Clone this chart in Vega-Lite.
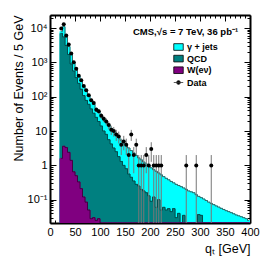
{
  "$schema": "https://vega.github.io/schema/vega-lite/v6.json",
  "width": 200,
  "height": 208,
  "autosize": {"type": "none"},
  "padding": {"left": 50, "top": 15, "right": 26, "bottom": 42},
  "background": "white",
  "config": {
    "view": {"stroke": null},
    "font": "Liberation Sans",
    "axis": {
      "domainColor": "black",
      "domainWidth": 2,
      "tickColor": "black",
      "tickWidth": 1,
      "grid": false,
      "zindex": 1,
      "labelFont": "Liberation Sans",
      "labelFontSize": 11,
      "labelColor": "black",
      "labelOverlap": false,
      "labelFlush": false,
      "labelBound": false,
      "titleFont": "Liberation Sans",
      "titleFontSize": 12.5,
      "titleFontWeight": "normal",
      "titleColor": "black"
    },
    "legend": {
      "labelFont": "Liberation Sans", "labelFontSize": 9, "labelFontWeight": "bold", "labelColor": "black",
      "titleFont": "Liberation Sans", "titleFontSize": 9.5, "titleFontWeight": "bold", "titleColor": "black",
      "symbolOffset": 40, "symbolSize": 90, "rowPadding": 0.6, "labelOffset": 3,
      "symbolStrokeColor": "black", "symbolStrokeWidth": 0.8
    }
  },
  "datasets": {
    "hist": [
      {"lo": 20, "hi": 25, "c": 22.5, "total": 8000, "qcd_w": 7000, "w": 1.6},
      {"lo": 25, "hi": 30, "c": 27.5, "total": 11000, "qcd_w": 5500, "w": 3.6},
      {"lo": 30, "hi": 35, "c": 32.5, "total": 5500, "qcd_w": 3100, "w": 3.3},
      {"lo": 35, "hi": 40, "c": 37.5, "total": 2900, "qcd_w": 1700, "w": 2.4},
      {"lo": 40, "hi": 45, "c": 42.5, "total": 1700, "qcd_w": 900, "w": 1.4},
      {"lo": 45, "hi": 50, "c": 47.5, "total": 1000, "qcd_w": 560, "w": 0.65},
      {"lo": 50, "hi": 55, "c": 52.5, "total": 600, "qcd_w": 360, "w": 0.5},
      {"lo": 55, "hi": 60, "c": 57.5, "total": 400, "qcd_w": 245, "w": 0.33},
      {"lo": 60, "hi": 65, "c": 62.5, "total": 280, "qcd_w": 165, "w": 0.21},
      {"lo": 65, "hi": 70, "c": 67.5, "total": 200, "qcd_w": 108, "w": 0.12},
      {"lo": 70, "hi": 75, "c": 72.5, "total": 145, "qcd_w": 78, "w": 0.085},
      {"lo": 75, "hi": 80, "c": 77.5, "total": 105, "qcd_w": 60, "w": 0.05},
      {"lo": 80, "hi": 85, "c": 82.5, "total": 78, "qcd_w": 44, "w": 0.028},
      {"lo": 85, "hi": 90, "c": 87.5, "total": 60, "qcd_w": 33, "w": 0.03},
      {"lo": 90, "hi": 95, "c": 92.5, "total": 46, "qcd_w": 25, "w": 0.025},
      {"lo": 95, "hi": 100, "c": 97.5, "total": 37, "qcd_w": 19, "w": 0.028},
      {"lo": 100, "hi": 105, "c": 102.5, "total": 29, "qcd_w": 14, "w": 0},
      {"lo": 105, "hi": 110, "c": 107.5, "total": 23, "qcd_w": 10, "w": 0},
      {"lo": 110, "hi": 115, "c": 112.5, "total": 18.5, "qcd_w": 8, "w": 0},
      {"lo": 115, "hi": 120, "c": 117.5, "total": 15, "qcd_w": 5.6, "w": 0},
      {"lo": 120, "hi": 125, "c": 122.5, "total": 12, "qcd_w": 4.2, "w": 0},
      {"lo": 125, "hi": 130, "c": 127.5, "total": 9.8, "qcd_w": 3.2, "w": 0},
      {"lo": 130, "hi": 135, "c": 132.5, "total": 8, "qcd_w": 2.5, "w": 0},
      {"lo": 135, "hi": 140, "c": 137.5, "total": 6.5, "qcd_w": 1.8, "w": 0},
      {"lo": 140, "hi": 145, "c": 142.5, "total": 5.4, "qcd_w": 1.3, "w": 0},
      {"lo": 145, "hi": 150, "c": 147.5, "total": 4.5, "qcd_w": 1.0, "w": 0},
      {"lo": 150, "hi": 155, "c": 152.5, "total": 3.8, "qcd_w": 0.8, "w": 0},
      {"lo": 155, "hi": 160, "c": 157.5, "total": 3.2, "qcd_w": 0.56, "w": 0},
      {"lo": 160, "hi": 165, "c": 162.5, "total": 2.7, "qcd_w": 0.45, "w": 0},
      {"lo": 165, "hi": 170, "c": 167.5, "total": 2.3, "qcd_w": 0.35, "w": 0},
      {"lo": 170, "hi": 175, "c": 172.5, "total": 1.95, "qcd_w": 0.28, "w": 0},
      {"lo": 175, "hi": 180, "c": 177.5, "total": 1.65, "qcd_w": 0.25, "w": 0},
      {"lo": 180, "hi": 185, "c": 182.5, "total": 1.45, "qcd_w": 0.2, "w": 0},
      {"lo": 185, "hi": 190, "c": 187.5, "total": 1.25, "qcd_w": 0.18, "w": 0},
      {"lo": 190, "hi": 195, "c": 192.5, "total": 1.1, "qcd_w": 0.16, "w": 0},
      {"lo": 195, "hi": 200, "c": 197.5, "total": 0.97, "qcd_w": 0.13, "w": 0},
      {"lo": 200, "hi": 205, "c": 202.5, "total": 0.85, "qcd_w": 0.09, "w": 0},
      {"lo": 205, "hi": 210, "c": 207.5, "total": 0.75, "qcd_w": 0.12, "w": 0},
      {"lo": 210, "hi": 215, "c": 212.5, "total": 0.67, "qcd_w": 0.06, "w": 0},
      {"lo": 215, "hi": 220, "c": 217.5, "total": 0.6, "qcd_w": 0.1, "w": 0},
      {"lo": 220, "hi": 225, "c": 222.5, "total": 0.53, "qcd_w": 0.05, "w": 0},
      {"lo": 225, "hi": 230, "c": 227.5, "total": 0.47, "qcd_w": 0.06, "w": 0},
      {"lo": 230, "hi": 235, "c": 232.5, "total": 0.42, "qcd_w": 0.05, "w": 0},
      {"lo": 235, "hi": 240, "c": 237.5, "total": 0.38, "qcd_w": 0.055, "w": 0},
      {"lo": 240, "hi": 245, "c": 242.5, "total": 0.34, "qcd_w": 0.045, "w": 0},
      {"lo": 245, "hi": 250, "c": 247.5, "total": 0.31, "qcd_w": 0.055, "w": 0},
      {"lo": 250, "hi": 255, "c": 252.5, "total": 0.28, "qcd_w": 0.03, "w": 0},
      {"lo": 255, "hi": 260, "c": 257.5, "total": 0.26, "qcd_w": 0.04, "w": 0},
      {"lo": 260, "hi": 265, "c": 262.5, "total": 0.24, "qcd_w": 0, "w": 0},
      {"lo": 265, "hi": 270, "c": 267.5, "total": 0.22, "qcd_w": 0.035, "w": 0},
      {"lo": 270, "hi": 275, "c": 272.5, "total": 0.2, "qcd_w": 0, "w": 0},
      {"lo": 275, "hi": 280, "c": 277.5, "total": 0.18, "qcd_w": 0, "w": 0},
      {"lo": 280, "hi": 285, "c": 282.5, "total": 0.17, "qcd_w": 0, "w": 0},
      {"lo": 285, "hi": 290, "c": 287.5, "total": 0.16, "qcd_w": 0, "w": 0},
      {"lo": 290, "hi": 295, "c": 292.5, "total": 0.14, "qcd_w": 0, "w": 0},
      {"lo": 295, "hi": 300, "c": 297.5, "total": 0.125, "qcd_w": 0.037, "w": 0},
      {"lo": 300, "hi": 305, "c": 302.5, "total": 0.115, "qcd_w": 0.035, "w": 0},
      {"lo": 305, "hi": 310, "c": 307.5, "total": 0.105, "qcd_w": 0, "w": 0},
      {"lo": 310, "hi": 315, "c": 312.5, "total": 0.095, "qcd_w": 0, "w": 0},
      {"lo": 315, "hi": 320, "c": 317.5, "total": 0.085, "qcd_w": 0, "w": 0},
      {"lo": 320, "hi": 325, "c": 322.5, "total": 0.078, "qcd_w": 0, "w": 0},
      {"lo": 325, "hi": 330, "c": 327.5, "total": 0.072, "qcd_w": 0, "w": 0},
      {"lo": 330, "hi": 335, "c": 332.5, "total": 0.066, "qcd_w": 0, "w": 0},
      {"lo": 335, "hi": 340, "c": 337.5, "total": 0.061, "qcd_w": 0, "w": 0},
      {"lo": 340, "hi": 345, "c": 342.5, "total": 0.056, "qcd_w": 0, "w": 0},
      {"lo": 345, "hi": 350, "c": 347.5, "total": 0.052, "qcd_w": 0, "w": 0},
      {"lo": 350, "hi": 355, "c": 352.5, "total": 0.048, "qcd_w": 0, "w": 0},
      {"lo": 355, "hi": 360, "c": 357.5, "total": 0.045, "qcd_w": 0, "w": 0},
      {"lo": 360, "hi": 365, "c": 362.5, "total": 0.042, "qcd_w": 0, "w": 0},
      {"lo": 365, "hi": 370, "c": 367.5, "total": 0.039, "qcd_w": 0, "w": 0},
      {"lo": 370, "hi": 375, "c": 372.5, "total": 0.036, "qcd_w": 0, "w": 0},
      {"lo": 375, "hi": 380, "c": 377.5, "total": 0.034, "qcd_w": 0, "w": 0},
      {"lo": 380, "hi": 385, "c": 382.5, "total": 0.032, "qcd_w": 0, "w": 0},
      {"lo": 385, "hi": 390, "c": 387.5, "total": 0.03, "qcd_w": 0, "w": 0},
      {"lo": 390, "hi": 395, "c": 392.5, "total": 0.028, "qcd_w": 0, "w": 0},
      {"lo": 395, "hi": 400, "c": 397.5, "total": 0.025, "qcd_w": 0, "w": 0}
    ],
    "obs": [
      {"c": 22.5, "n": 9700, "lo": 9602, "hi": 9798},
      {"c": 27.5, "n": 13000, "lo": 12886, "hi": 13114},
      {"c": 32.5, "n": 6100, "lo": 6022, "hi": 6178},
      {"c": 37.5, "n": 3300, "lo": 3243, "hi": 3357},
      {"c": 42.5, "n": 1820, "lo": 1777, "hi": 1863},
      {"c": 47.5, "n": 1010, "lo": 978, "hi": 1042},
      {"c": 52.5, "n": 650, "lo": 624.5, "hi": 675.5},
      {"c": 57.5, "n": 410, "lo": 389.8, "hi": 430.2},
      {"c": 62.5, "n": 300, "lo": 282.7, "hi": 317.3},
      {"c": 67.5, "n": 205, "lo": 190.7, "hi": 219.3},
      {"c": 72.5, "n": 155, "lo": 142.6, "hi": 167.4},
      {"c": 77.5, "n": 110, "lo": 99.5, "hi": 120.5},
      {"c": 82.5, "n": 79, "lo": 70.1, "hi": 87.9},
      {"c": 87.5, "n": 66, "lo": 57.9, "hi": 74.1},
      {"c": 92.5, "n": 42, "lo": 35.5, "hi": 48.5},
      {"c": 97.5, "n": 38, "lo": 31.8, "hi": 44.2},
      {"c": 102.5, "n": 28, "lo": 22.7, "hi": 33.3},
      {"c": 107.5, "n": 23, "lo": 18.2, "hi": 27.8},
      {"c": 112.5, "n": 19, "lo": 14.64, "hi": 23.36},
      {"c": 117.5, "n": 15, "lo": 11.13, "hi": 18.87},
      {"c": 122.5, "n": 11, "lo": 7.68, "hi": 14.32},
      {"c": 127.5, "n": 10, "lo": 6.84, "hi": 13.16},
      {"c": 132.5, "n": 8, "lo": 5.17, "hi": 10.83},
      {"c": 137.5, "n": 7, "lo": 4.35, "hi": 9.65},
      {"c": 142.5, "n": 4, "lo": 2, "hi": 6},
      {"c": 147.5, "n": 5, "lo": 2.76, "hi": 7.24},
      {"c": 152.5, "n": 4, "lo": 2, "hi": 6},
      {"c": 157.5, "n": 2, "lo": 0.59, "hi": 3.41},
      {"c": 162.5, "n": 8, "lo": 5.17, "hi": 10.83},
      {"c": 167.5, "n": 2, "lo": 0.59, "hi": 3.41},
      {"c": 172.5, "n": 4, "lo": 2, "hi": 6},
      {"c": 177.5, "n": 1, "lo": 0, "hi": 2},
      {"c": 182.5, "n": 1, "lo": 0, "hi": 2},
      {"c": 187.5, "n": 1, "lo": 0, "hi": 2},
      {"c": 192.5, "n": 2, "lo": 0.59, "hi": 3.41},
      {"c": 197.5, "n": 1, "lo": 0, "hi": 2},
      {"c": 202.5, "n": 3, "lo": 1.27, "hi": 4.73},
      {"c": 207.5, "n": 1, "lo": 0, "hi": 2},
      {"c": 212.5, "n": 1, "lo": 0, "hi": 2},
      {"c": 217.5, "n": 1, "lo": 0, "hi": 2},
      {"c": 222.5, "n": 1, "lo": 0, "hi": 2},
      {"c": 272.5, "n": 1, "lo": 0, "hi": 2},
      {"c": 292.5, "n": 1, "lo": 0, "hi": 2},
      {"c": 322.5, "n": 1, "lo": 0, "hi": 2}
    ]
  },
  "resolve": {"scale": {"color": "independent"}, "legend": {"color": "independent"}, "axis": {"x": "independent", "y": "independent"}},
  "layer": [
    {
      "resolve": {"axis": {"x": "independent", "y": "independent"}},
      "layer": [
        {
          "data": {"name": "hist"},
          "mark": {"type": "bar", "clip": true, "stroke": "#00ffff", "strokeWidth": 1},
          "encoding": {
            "x": {"field": "lo", "type": "quantitative",
              "scale": {"domain": [0, 400], "nice": false, "zero": false},
              "axis": {"orient": "bottom", "values": [0,10,20,30,40,50,60,70,80,90,100,110,120,130,140,150,160,170,180,190,200,210,220,230,240,250,260,270,280,290,300,310,320,330,340,350,360,370,380,390,400],
                "labelExpr": "datum.value % 50 === 0 ? datum.label : ''",
                "tickSize": {"condition": {"test": "datum.value % 50 === 0", "value": -6}, "value": -3},
                "labelPadding": 9,
                "title": "qₜ [GeV]", "titleAnchor": "end", "titlePadding": 2}},
            "x2": {"field": "hi"},
            "y": {"field": "total", "type": "quantitative",
              "scale": {"type": "log", "domain": [0.021, 24000], "nice": false, "clamp": true},
              "axis": {"orient": "left",
                "values": [0.03,0.04,0.05,0.06,0.07,0.08,0.09,0.1,0.2,0.3,0.4,0.5,0.6,0.7,0.8,0.9,1,2,3,4,5,6,7,8,9,10,20,30,40,50,60,70,80,90,100,200,300,400,500,600,700,800,900,1000,2000,3000,4000,5000,6000,7000,8000,9000,10000,20000],
                "labelExpr": "datum.value === 10000 ? '10⁴' : datum.value === 1000 ? '10³' : datum.value === 100 ? '10²' : datum.value === 10 ? '10' : datum.value === 1 ? '1' : datum.value === 0.1 ? '10⁻¹' : ''",
                "tickSize": {"condition": {"test": "indexof([0.1,1,10,100,1000,10000], datum.value) >= 0", "value": -6}, "value": -3},
                "labelPadding": 9,
                "title": "Number of Events / 5 GeV", "titleAnchor": "end", "titleX": -25}},
            "y2": {"value": "height"},
            "color": {"datum": "γ + jets", "type": "nominal",
              "scale": {"domain": ["γ + jets", "QCD", "W(eν)"], "range": ["#00ffff", "#008080", "#800080"]},
              "legend": {"orient": "none", "legendX": 83, "legendY": 12,
                "title": "CMS,√s = 7 TeV, 36 pb⁻¹", "titlePadding": 5,
                "symbolType": "M-1,-0.7H1V0.7H-1Z"}}
          }
        },
        {
          "data": {"name": "hist"},
          "mark": {"type": "line", "interpolate": "step", "clip": true, "color": "#444444", "strokeWidth": 0.8},
          "encoding": {
            "x": {"field": "c", "type": "quantitative",
              "axis": {"orient": "top", "values": [0,10,20,30,40,50,60,70,80,90,100,110,120,130,140,150,160,170,180,190,200,210,220,230,240,250,260,270,280,290,300,310,320,330,340,350,360,370,380,390,400],
                "labels": false, "title": null,
                "tickSize": {"condition": {"test": "datum.value % 50 === 0", "value": -6}, "value": -3}}},
            "y": {"field": "total", "type": "quantitative",
              "axis": {"orient": "right", "labels": false, "title": null,
                "values": [0.03,0.04,0.05,0.06,0.07,0.08,0.09,0.1,0.2,0.3,0.4,0.5,0.6,0.7,0.8,0.9,1,2,3,4,5,6,7,8,9,10,20,30,40,50,60,70,80,90,100,200,300,400,500,600,700,800,900,1000,2000,3000,4000,5000,6000,7000,8000,9000,10000,20000],
                "tickSize": {"condition": {"test": "indexof([0.1,1,10,100,1000,10000], datum.value) >= 0", "value": -6}, "value": -3}}}
          }
        },
        {
          "data": {"name": "hist"},
          "mark": {"type": "bar", "clip": true, "stroke": "#008080", "strokeWidth": 1},
          "encoding": {
            "x": {"field": "lo", "type": "quantitative", "axis": null},
            "x2": {"field": "hi"},
            "y": {"field": "qcd_w", "type": "quantitative", "axis": null},
            "y2": {"value": "height"},
            "color": {"datum": "QCD", "type": "nominal"}
          }
        },
        {
          "data": {"name": "hist"},
          "mark": {"type": "line", "interpolate": "step", "clip": true, "color": "#004444", "strokeWidth": 0.8},
          "encoding": {
            "x": {"field": "c", "type": "quantitative", "axis": null},
            "y": {"field": "qcd_w", "type": "quantitative", "axis": null}
          }
        },
        {
          "data": {"name": "hist"},
          "mark": {"type": "bar", "clip": true, "stroke": "#800080", "strokeWidth": 1},
          "encoding": {
            "x": {"field": "lo", "type": "quantitative", "axis": null},
            "x2": {"field": "hi"},
            "y": {"field": "w", "type": "quantitative", "axis": null},
            "y2": {"value": "height"},
            "color": {"datum": "W(eν)", "type": "nominal"}
          }
        },
        {
          "data": {"name": "hist"},
          "mark": {"type": "line", "interpolate": "step", "clip": true, "color": "#330033", "strokeWidth": 0.8},
          "encoding": {
            "x": {"field": "c", "type": "quantitative", "axis": null},
            "y": {"field": "w", "type": "quantitative", "axis": null}
          }
        }
      ]
    },
    {
      "layer": [
        {
          "data": {"name": "obs"},
          "mark": {"type": "rule", "clip": true, "color": "#777777", "strokeWidth": 1},
          "encoding": {
            "x": {"field": "c", "type": "quantitative", "axis": null},
            "y": {"field": "lo", "type": "quantitative", "axis": null},
            "y2": {"field": "hi"}
          }
        },
        {
          "data": {"name": "obs"},
          "mark": {"type": "point", "filled": true, "size": 16, "opacity": 1, "clip": true},
          "encoding": {
            "x": {"field": "c", "type": "quantitative", "axis": null},
            "y": {"field": "n", "type": "quantitative", "axis": null},
            "color": {"datum": "Data", "type": "nominal",
              "scale": {"domain": ["Data"], "range": ["black"]},
              "legend": {"orient": "none", "legendX": 83, "legendY": 62, "title": null,
                "symbolType": "M-1,0H1M-0.4,0A0.4,0.4,0,1,1,0.4,0A0.4,0.4,0,1,1,-0.4,0Z",
                "symbolStrokeColor": "#333333"}}
          }
        }
      ]
    }
  ]
}
